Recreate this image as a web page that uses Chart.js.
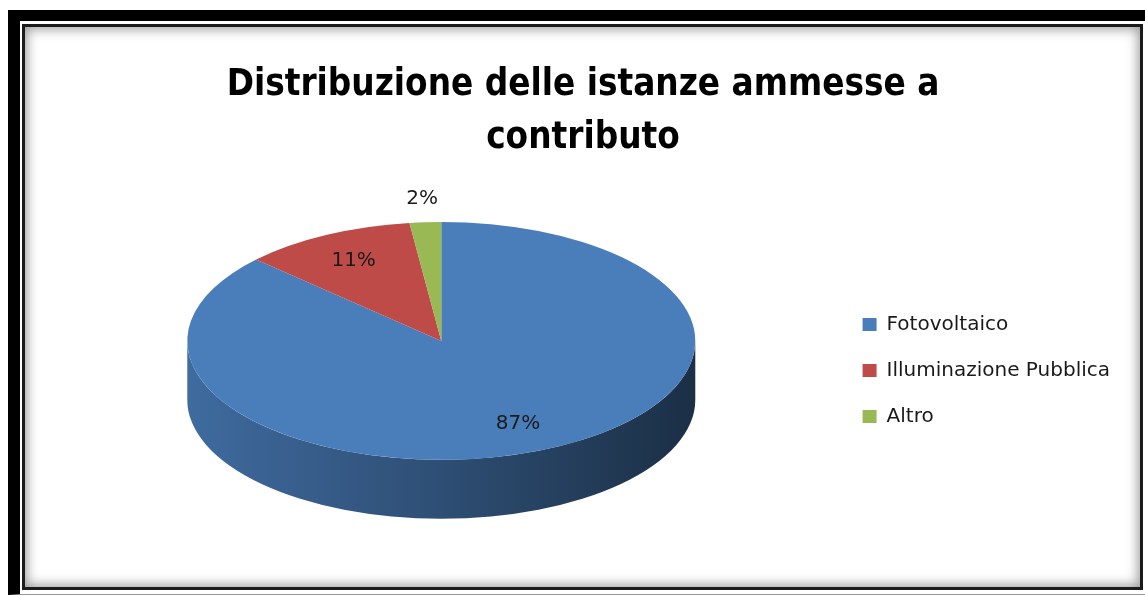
<!DOCTYPE html>
<html>
<head>
<meta charset="utf-8">
<script src="https://cdn.jsdelivr.net/npm/chart.js@4"></script>
<style>
  html, body { margin: 0; padding: 0; background: #fff; width: 1145px; height: 596px; overflow: hidden; }
  #outer { position: absolute; left: 8px; top: 10px; width: 1145px; height: 585px; box-sizing: border-box;
           border-left: 12px solid #000; border-top: 11px solid #000; border-bottom: 1px solid #999; }
  #inner { position: absolute; left: 22px; top: 24px; width: 1121px; height: 566px; box-sizing: border-box;
           border: 3px solid #1b1b1b; background: #fff; box-shadow: inset 0 0 12px 2px rgba(0,0,0,0.4); }
  #chart { position: absolute; left: 0; top: 0; }
</style>
</head>
<body>
<div id="outer"></div>
<div id="inner"></div>
<canvas id="chart" width="1145" height="596"></canvas>
<script>
document.addEventListener('DOMContentLoaded', () => {
    const titleLines = ['Distribuzione delle istanze ammesse a', 'contributo'];
    const categories = ['Fotovoltaico', 'Illuminazione Pubblica', 'Altro'];
    const shares = [87, 11, 2];
    const sliceColors = ['#4a7ebb', '#be4b48', '#98b954'];

    function shade(hex, f) {
        const n = parseInt(hex.slice(1), 16);
        const r = Math.round(((n >> 16) & 255) * f);
        const g = Math.round(((n >> 8) & 255) * f);
        const b = Math.round((n & 255) * f);
        return `rgb(${r}, ${g}, ${b})`;
    }

    // fake 3D: squash the pie into an ellipse and add a wall underneath
    const pie3d = {
        id: 'pie3d',
        beforeDatasetsDraw(chart, args, opts) {
            const ctx = chart.ctx;
            const arcs = chart.getDatasetMeta(0).data;
            const { x, y, outerRadius: R } = arcs[0];
            const sx = opts.rx / R;
            const sy = opts.rx * opts.tilt / R;
            const cy = y - opts.depth / 2;
            const d = opts.depth / sy;
            ctx.save();
            ctx.translate(x, cy);
            ctx.scale(sx, sy);
            arcs.forEach((arc, i) => {
                [-2 * Math.PI, 0, 2 * Math.PI].forEach(k => {
                    const a0 = Math.max(arc.startAngle + k, 0);
                    const a1 = Math.min(arc.endAngle + k, Math.PI);
                    if (a1 <= a0) return;
                    const base = sliceColors[i];
                    const grad = ctx.createLinearGradient(-R, 0, R, 0);
                    grad.addColorStop(0, shade(base, 0.85));
                    grad.addColorStop(0.5, shade(base, 0.62));
                    grad.addColorStop(1, shade(base, 0.37));
                    ctx.beginPath();
                    ctx.arc(0, 0, R, a0, a1);
                    ctx.arc(0, d, R, a1, a0, true);
                    ctx.closePath();
                    ctx.fillStyle = grad;
                    ctx.fill();
                });
            });
            ctx.translate(-x, -y);
        },
        afterDatasetsDraw(chart, args, opts) {
            const ctx = chart.ctx;
            ctx.restore();
            const arcs = chart.getDatasetMeta(0).data;
            const total = shares.reduce((s, v) => s + v, 0);
            ctx.save();
            ctx.font = '20px "DejaVu Sans"';
            ctx.fillStyle = '#1a1a1a';
            ctx.textAlign = 'center';
            ctx.textBaseline = 'middle';
            arcs.forEach((arc, i) => {
                const { x, y, outerRadius: R } = arc;
                const sx = opts.rx / R;
                const sy = opts.rx * opts.tilt / R;
                const cy = y - opts.depth / 2;
                const mid = (arc.startAngle + arc.endAngle) / 2;
                const pct = Math.round(shares[i] / total * 100);
                const f = pct < 5 ? 1.2 : 0.76;
                const px = x + Math.cos(mid) * R * f * sx;
                const py = cy + Math.sin(mid) * R * f * sy;
                ctx.fillText(pct + '%', px, py);
            });
            ctx.restore();
        }
    };

    const ctx = document.getElementById('chart').getContext('2d');
    new Chart(ctx, {
        type: 'pie',
        data: {
            labels: categories,
            datasets: [{
                data: shares,
                backgroundColor: sliceColors,
                borderWidth: 0,
                clip: false
            }]
        },
        options: {
            responsive: false,
            animation: false,
            devicePixelRatio: 1,
            layout: { padding: { top: 10, left: 46, right: 25, bottom: 35 } },
            plugins: {
                title: {
                    display: true,
                    text: titleLines,
                    color: '#000',
                    font: { family: '"Liberation Sans Narrow", "DejaVu Sans Condensed", sans-serif', weight: 'bold', size: 36.5, lineHeight: 1.45 },
                    padding: { top: 49, bottom: 15 }
                },
                legend: {
                    position: 'right',
                    fullSize: false,
                    labels: {
                        color: '#1a1a1a',
                        font: { family: '"DejaVu Sans"', size: 20 },
                        boxWidth: 14,
                        boxHeight: 13,
                        padding: 26
                    }
                },
                tooltip: { enabled: false },
                pie3d: { rx: 254, tilt: 0.468, depth: 59 }
            }
        },
        plugins: [pie3d]
    });
});
</script>
</body>
</html>
